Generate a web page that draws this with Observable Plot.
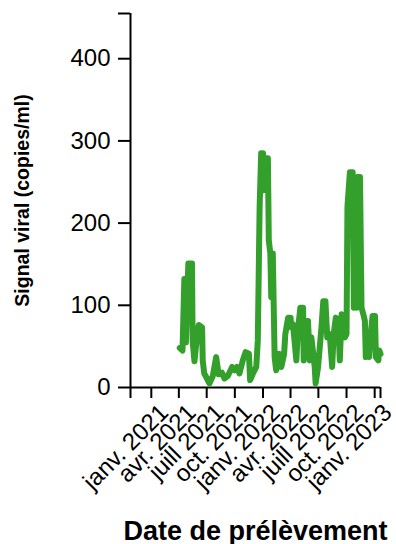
<!DOCTYPE html>
<html>
<head>
<meta charset="utf-8">
<script src="https://cdn.jsdelivr.net/npm/d3@7"></script>
<script src="https://cdn.jsdelivr.net/npm/@observablehq/plot@0.6"></script>
<style>
  html, body { margin: 0; padding: 0; background: white; }
  #chart svg { display: block; }
</style>
</head>
<body>
<div id="chart"></div>
<script>
// Sampling dates
const dates = [
  "2021-04-04","2021-04-13","2021-04-19","2021-04-24","2021-05-02","2021-05-14","2021-05-16","2021-05-22","2021-05-27","2021-06-05",
  "2021-06-16","2021-06-18","2021-06-23","2021-06-29","2021-07-10","2021-07-21","2021-08-01","2021-08-09","2021-08-20","2021-08-28",
  "2021-09-08","2021-09-22","2021-09-30","2021-10-08","2021-10-16","2021-10-27","2021-11-05","2021-11-16","2021-11-20","2021-11-29",
  "2021-12-10","2021-12-15","2021-12-21","2021-12-26","2022-01-01","2022-01-04","2022-01-08","2022-01-17","2022-01-20","2022-01-25",
  "2022-01-28","2022-02-02","2022-02-08","2022-02-13","2022-02-22","2022-03-02","2022-03-11","2022-03-15","2022-03-24","2022-04-01",
  "2022-04-04","2022-04-09","2022-04-20","2022-04-25","2022-05-03","2022-05-12","2022-05-14","2022-05-19","2022-05-28","2022-06-03",
  "2022-06-08","2022-06-19","2022-06-22","2022-06-30","2022-07-11","2022-07-17","2022-07-24","2022-07-30","2022-08-07","2022-08-15",
  "2022-08-20","2022-08-27","2022-09-04","2022-09-09","2022-09-15","2022-09-20","2022-09-26","2022-10-01","2022-10-04","2022-10-12",
  "2022-10-21","2022-10-25","2022-10-28","2022-11-03","2022-11-06","2022-11-14","2022-11-19","2022-11-25","2022-11-30","2022-12-03",
  "2022-12-09","2022-12-14","2022-12-19","2022-12-25","2023-01-02","2023-01-05","2023-01-13","2023-01-16","2023-01-20"
];
// Viral signal (copies/ml)
const signal = [
  48,45,132,55,151,151,57,32,50,76,
  73,33,17,13,5,14,37,16,18,11,
  14,25,21,25,17,33,43,41,9,17,
  25,57,220,285,285,240,279,279,179,163,
  110,163,37,21,41,25,41,65,85,85,
  73,77,33,69,97,97,33,81,81,33,
  61,25,5,25,73,105,105,61,65,25,
  65,85,81,33,89,77,61,65,220,262,
  262,97,220,97,256,256,97,89,81,37,
  61,37,65,87,87,37,33,45,41
];
// Axis settings
const xDomain = ["2020-10-25", "2023-01-20"];
const xTickDates = ["2021-01-01","2021-04-01","2021-07-01","2021-10-01","2022-01-01","2022-04-01","2022-07-01","2022-10-01","2023-01-01"];
const xTickLabels = ["janv. 2021","avr. 2021","juill 2021","oct. 2021","janv. 2022","avr. 2022","juill 2022","oct. 2022","janv. 2023"];
const yDomain = [0, 455];
const yTicks = [0, 100, 200, 300, 400];
const xTitle = "Date de prélèvement";
const yTitle = "Signal viral (copies/ml)";
const lineColor = "#33a02c";

const parse = d3.utcParse("%Y-%m-%d");
const data = dates.map((d, i) => ({date: parse(d), value: signal[i]}));
const xDom = xDomain.map(parse);
const xTickData = xTickDates.map((d, i) => ({date: parse(d), label: xTickLabels[i]}));
const xTicksAll = [xDom[0], ...xTickData.map(d => d.date), xDom[1]];
const yTicksAll = [...yTicks, yDomain[1]];

const font = "'Liberation Sans', Arial, Helvetica, sans-serif";

const chart = Plot.plot({
  width: 396,
  height: 544,
  marginLeft: 130,
  marginRight: 16,
  marginTop: 13,
  marginBottom: 157,
  style: {fontFamily: font, fontSize: "24px", color: "black", background: "white", overflow: "visible"},
  x: {type: "utc", domain: xDom},
  y: {domain: yDomain},
  marks: [
    Plot.axisY({
      ticks: yTicksAll, tickSize: 12, tickPadding: 8, strokeWidth: 2,
      tickFormat: d => yTicks.includes(d) ? String(d) : "",
      fontSize: 24, label: null
    }),
    Plot.axisX({
      ticks: xTicksAll, tickSize: 11, strokeWidth: 2,
      tickFormat: () => "", label: null
    }),
    Plot.text(xTickData, {
      x: "date", text: "label", frameAnchor: "bottom",
      rotate: -45, textAnchor: "end", lineAnchor: "middle",
      dx: 13, dy: 21, fontSize: 24
    }),
    Plot.ruleX([xDom[0]], {strokeWidth: 2}),
    Plot.ruleY([0], {strokeWidth: 2}),
    Plot.lineY(data, {x: "date", y: "value", stroke: lineColor, strokeWidth: 6}),
    Plot.text([yTitle], {frameAnchor: "left", dx: -108, rotate: -90, textAnchor: "middle", fontSize: 19.5, fontWeight: "bold", text: d => d}),
    Plot.text([xTitle], {frameAnchor: "bottom", lineAnchor: "bottom", dy: 152, fontSize: 27, fontWeight: "bold", text: d => d})
  ]
});
document.getElementById("chart").appendChild(chart);
</script>
</body>
</html>
